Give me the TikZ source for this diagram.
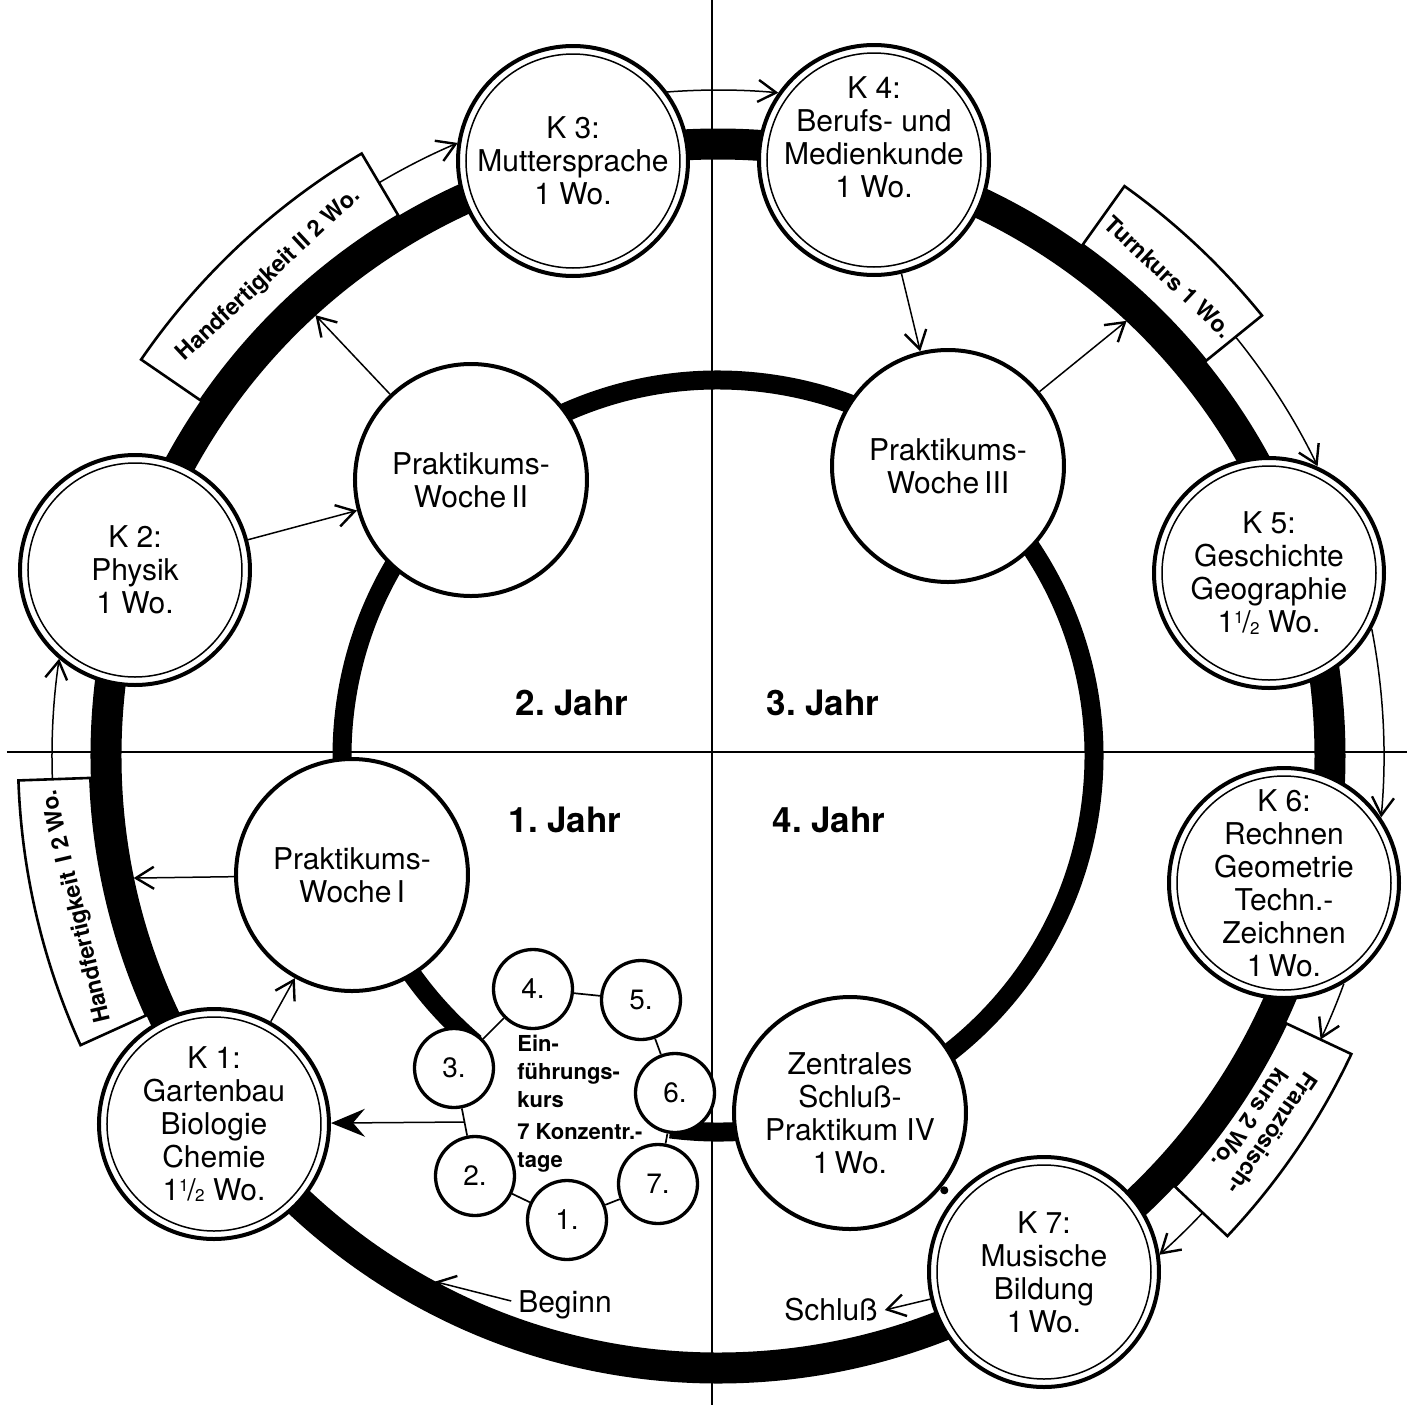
\documentclass[tikz,border=0pt]{standalone}
\usepackage{fontspec}
\setmainfont{TeX Gyre Heros}
\usetikzlibrary{calc,arrows.meta}

\newcommand\kfont{\fontsize{15}{16.5}\selectfont}
\newcommand\halb{\raisebox{.55ex}{\fontsize{8.5}{8.5}\selectfont 1}\kern-.04em/\kern-.02em\raisebox{-.12ex}{\fontsize{8.5}{8.5}\selectfont 2}}

\begin{document}
\begin{tikzpicture}[
            x=0.5pt, y=0.5pt,
            flow/.style={line width=0.75pt,-{Straight Barb[length=9pt,width=11pt,line width=1.2pt]}},
            bigflow/.style={line width=0.75pt,-{Stealth[length=17pt,width=14pt,inset=6pt]}},
            kbox/.style={draw,fill=white,line width=1.3pt},
            boxtext/.style={font=\bfseries\fontsize{11.5}{13.5}\selectfont,align=center,inner sep=0pt},
            jahr/.style={font=\bfseries\fontsize{17.5}{20}\selectfont}
        ]
            \useasboundingbox (-718,-649) rectangle (696,756);

            \draw[line width=1.1pt] (-6,756) -- (-6,-649);
            \draw[line width=1.1pt] (-711,4) -- (689,4);

            \draw[line width=15.5pt] (0,0) circle[radius=612];
            \draw[line width=9.5pt]  (-97.3:376) arc[start angle=-97.3,end angle=229.8,radius=376];

            \foreach \sa/\sb/\nm/\txt in {120.6/145.5/hfB/{Handfertigkeit II 2 Wo.},
                                          39/54.5/turn/{Turnkurs 1 Wo.},
                                          -43.3/-25.2/frz/{Französisch-\\kurs 2 Wo.},
                                          182/204.4/hfA/{Handfertigkeit\ \,I 2 Wo.}}{
                \pgfmathsetmacro\m{(\sa+\sb)/2}
                \draw[kbox] (\sa:628) arc[start angle=\sa,end angle=\sb,radius=628]
                            -- (\sb:700) arc[start angle=\sb,end angle=\sa,radius=700] -- cycle;
                \node[boxtext,rotate=\m-90] (\nm) at (\m:658) {\txt};
            }

            \coordinate (c1) at (-151,-464);
            \coordinate (c2) at (-243,-420);
            \coordinate (c3) at (-264,-312);
            \coordinate (c4) at (-185,-233);
            \coordinate (c5) at (-77,-244);
            \coordinate (c6) at (-43,-337);
            \coordinate (c7) at (-60,-428);

            \begin{scope}[
                every node/.style={circle,draw,fill=white,line width=2pt,inner sep=-12pt,
                    minimum size=115pt,align=center,font=\kfont,
                    path picture={\draw[line width=.75pt] (path picture bounding box.center) circle[radius=53.5pt];}}
            ]
                \node (K1) at (-504,-368) {K~1:\\Gartenbau\\Biologie\\Chemie\\1\halb~Wo.};
                \node (K2) at (-583,186)  {K~2:\\Physik\\1~Wo.};
                \node (K3) at (-145,595)  {K~3:\\Muttersprache\\1~Wo.};
                \node (K4) at (156,596)   {K~4:\\Berufs- und\\Medienkunde\\1~Wo.\\[6pt]};
                \node (K5) at (551,183)   {K~5:\\Geschichte\\Geographie\\1\halb~Wo.};
                \node (K6) at (566,-127)  {K~6:\\Rechnen\\Geometrie\\Techn.-\\Zeichnen\\1\,Wo.};
                \node (K7) at (326,-516)  {K~7:\\Musische\\Bildung\\1\,Wo.};
            \end{scope}

            \begin{scope}[
                every node/.style={circle,draw,fill=white,line width=2pt,inner sep=0pt,
                    minimum size=116pt,align=center,font=\kfont}
            ]
                \node (PW1) at (-366,-119) {Praktikums-\\Woche\,I};
                \node (PW2) at (-247,276)  {Praktikums-\\Woche\,II};
                \node (PW3) at (230,290)   {Praktikums-\\Woche\,III};
                \node (ZS)  at (132,-357)  {Zentrales\\Schluß-\\Praktikum IV\\1\,Wo.};
            \end{scope}

            \foreach \i in {1,...,7}
                \node[circle,draw,fill=white,line width=1.65pt,inner sep=0pt,
                      minimum size=39.5pt,font=\fontsize{14}{16}\selectfont] (t\i) at (c\i) {\i.};

            \node[jahr] (j2) at (-146,53)  {2.~Jahr};
            \node[jahr] (j3) at (105,53)   {3.~Jahr};
            \node[jahr] (j1) at (-153,-64) {1.~Jahr};
            \node[jahr] (j4) at (111,-64)  {4.~Jahr};

            \node[font=\bfseries\fontsize{11}{14}\selectfont,align=left,anchor=west,inner sep=0pt]
                (einf) at (-201,-348) {Ein-\\führungs-\\kurs\\[2pt]7 Konzentr.-\\tage};
            \node[font=\kfont] (beginn)  at (-153,-549) {Beginn};
            \node[font=\kfont] (schluss) at (113,-554)  {Schluß};

            \foreach \sa/\sb in {120.6/113, 94.4/84.8, 39/25.8, 11/-5.3, -20/-25.2, -43.3/-48.5, 182/171.6}
                \draw[flow] (\sa:666) arc[start angle=\sa,end angle=\sb,radius=666];

            \coordinate (o1)   at (191.8:597);
            \coordinate (o2)   at (132.4:597);
            \coordinate (o3)   at (46.8:597);
            \coordinate (tipB) at (241.7:597);
            \coordinate (e23)  at ($(c3)!.5!(c2)$);

            \draw[flow] (K2) -- (PW2);
            \draw[flow] (K4) -- (PW3);
            \draw[flow] (K1) -- (PW1);
            \draw[flow] (PW1) -- (o1);
            \draw[flow] (PW2) -- (o2);
            \draw[flow] (PW3) -- (o3);
            \draw[flow] ([yshift=2pt]beginn.west) -- (tipB);
            \draw[flow] (K7) -- (schluss.east);
            \draw[bigflow] (e23) -- (K1);
            \draw[line width=4pt,line cap=round,shorten <=2pt,shorten >=6pt] (ZS) -- (K7);

            \draw[line width=0.85pt] (t1) -- (t2) -- (t3) -- (t4) -- (t5) -- (t6) -- (t7) -- (t1);
        \end{tikzpicture}
\end{document}
